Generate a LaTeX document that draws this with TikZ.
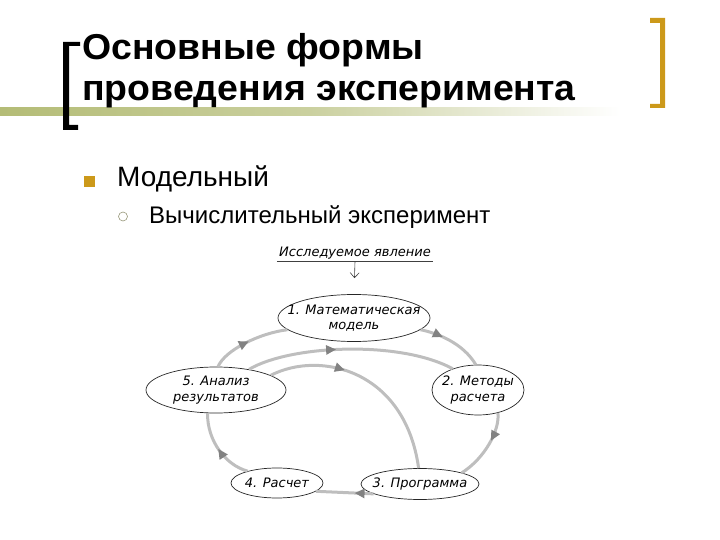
\documentclass[tikz,border=0pt]{standalone}
\usepackage{fontspec}
\setmainfont{Liberation Sans}
\newfontfamily\ttlfont{Liberation Sans}[FakeStretch=1.04]
\newfontfamily\diagfont{DejaVu Sans}[ItalicFont={DejaVu Sans Oblique}]
\usetikzlibrary{arrows.meta,decorations.markings,shapes.geometric}
\definecolor{gold}{RGB}{204,153,26}
\definecolor{olivebar}{RGB}{180,188,118}
\definecolor{linegray}{RGB}{190,190,190}
\definecolor{headgray}{RGB}{130,130,130}
\definecolor{subbul}{RGB}{150,150,120}
\begin{document}
\begin{tikzpicture}[x=1pt,y=-1pt,
  stage/.style={ellipse, draw=black!85, line width=0.7pt, fill=white, inner sep=0pt},
  lbl/.style={font=\diagfont\itshape\fontsize{13}{15.5}\selectfont, align=center, inner sep=0pt},
  conn/.style={draw=linegray, line width=3pt},
  mid/.style={postaction={decorate}, decoration={markings, mark=at position #1 with {\arrow{Triangle[length=10pt,width=9pt,color=headgray]}}}},
  titlefont/.style={font=\ttlfont\fontsize{36}{40}\selectfont\bfseries, anchor=base west, inner sep=0pt}]
\useasboundingbox (0,0) rectangle (720,540);
% decorative bar
\shade[left color=olivebar, right color=white, middle color=olivebar!70] (0,108) rectangle (620,116);
% brackets
\fill[black] (63,42) -- (80,42) -- (80,46) -- (69,46) -- (69,125) -- (78,125) -- (78,130) -- (63,130) -- cycle;
\fill[gold] (650,18) -- (665,18) -- (665,108) -- (650,108) -- (650,104) -- (660,104) -- (660,23) -- (650,23) -- cycle;
% title
\node[titlefont] (T1) at (82,60) {Основные формы};
\node[titlefont] (T2) at (82,101) {проведения эксперимента};
% bullets
\node[fill=gold, minimum size=11pt, inner sep=0pt] (B1) at (89,181.5) {};
\node[anchor=base west, inner sep=0pt, font=\fontsize{28}{32}\selectfont] (I1) at (117,187) {Модельный};
\node[circle, draw=subbul, line width=0.6pt, minimum size=9pt, inner sep=0pt] (B2) at (123,216.5) {};
\node[anchor=base west, inner sep=0pt, font=\fontsize{24}{28}\selectfont] (I2) at (149,223) {Вычислительный эксперимент};
% diagram
\node[lbl, minimum width=156pt, minimum height=16pt] (T) at (355,253) {Исследуемое явление};
\draw[black!75, line width=0.5pt] (T.south west) -- (T.south east);
\node[stage, minimum width=152pt, minimum height=47pt] (E1) at (354,318) {};
\node[stage, minimum width=92pt, minimum height=50pt] (E2) at (478,390) {};
\node[stage, minimum width=118pt, minimum height=31pt] (E3) at (420,484) {};
\node[stage, minimum width=92pt, minimum height=30pt] (E4) at (277,483) {};
\node[stage, minimum width=140pt, minimum height=46pt] (E5) at (216,390) {};
\node[lbl] (L1) at (E1) {1. Математическая\\модель};
\node[lbl] (L2) at (E2) {2. Методы\\расчета};
\node[lbl] (L3) at (E3) {3. Программа};
\node[lbl] (L4) at (E4) {4. Расчет};
\node[lbl] (L5) at (E5) {5. Анализ\\результатов};
\draw[black!75, line width=0.6pt, -{Straight Barb[length=5pt,width=9pt]}, shorten >=16pt] (T.south) -- (E1.north);
% connectors
\path[conn, mid=0.35] (E1.-10) .. controls (437,333) and (463,343) .. (E2.95);
\path[conn, mid=0.4] (E2.-49) .. controls (500,430) and (485,458) .. (E3.15);
\path[conn, mid=0.33] (E3.192) -- (E4.-12);
\path[conn, mid=0.5] (E4.158) .. controls (225,465) and (207,440) .. (E5.250);
\path[conn, mid=0.5] (E5.85) .. controls (225,350) and (260,333) .. (E1.190);
\path[conn, mid=0.43] (E5.32) .. controls (290,345) and (400,340) .. (E2.140);
\path[conn, mid=0.37] (E5.15) .. controls (320,350) and (405,370) .. (E3.95);
\end{tikzpicture}
\end{document}
